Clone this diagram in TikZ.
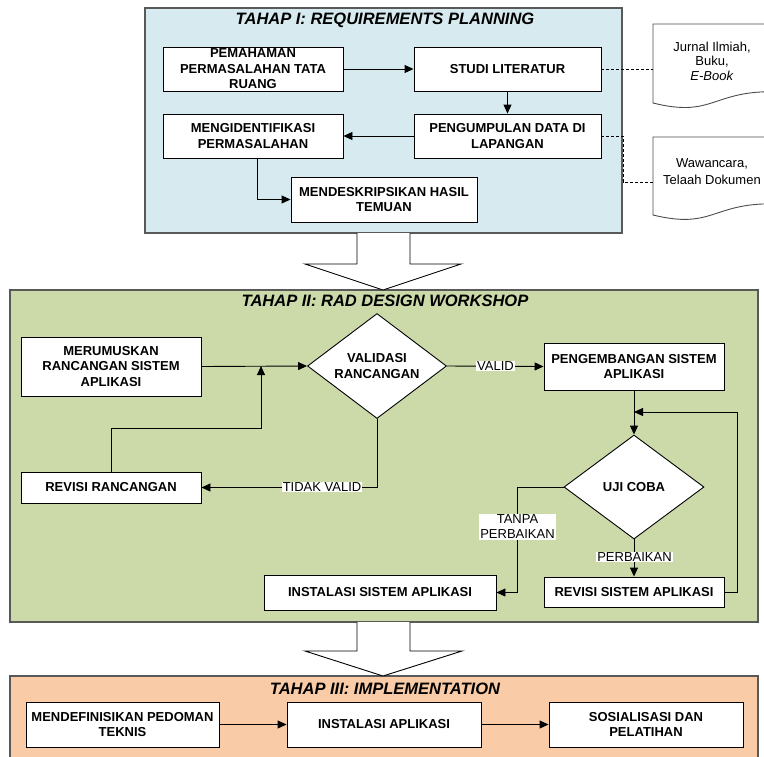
\documentclass[tikz,border=0pt]{standalone}
\usepackage{fontspec}
\setmainfont{Liberation Sans}
\usetikzlibrary{shapes.geometric,arrows.meta}
\definecolor{pblue}{RGB}{214,234,240}
\definecolor{pgreen}{RGB}{204,218,170}
\definecolor{porange}{RGB}{249,203,166}
\begin{document}
\begin{tikzpicture}[x=1pt,y=-1pt,
  box/.style={draw=black, fill=white, line width=0.9pt, align=center, inner sep=0pt,
              font=\fontsize{13}{15.5}\selectfont\bfseries},
  dia/.style={diamond, draw=black, fill=white, line width=0.9pt, align=center, inner sep=0pt,
              aspect=1.33, font=\fontsize{13}{15.5}\selectfont\bfseries},
  conn/.style={line width=0.9pt},
  arr/.style={line width=0.9pt, -{Triangle[length=9pt,width=8pt]}},
  lbl/.style={fill=white, inner sep=1pt, align=center, font=\fontsize{13}{15}\selectfont},
  panel/.style={draw=black!65, line width=1.2pt},
  ttl/.style={inner sep=0pt, font=\fontsize{16.5}{18}\selectfont\bfseries\itshape},
  hollow/.style={draw=black, fill=white, line width=0.9pt},
  docshape/.style={draw=black!70, fill=white, line width=0.9pt},
  dline/.style={dash pattern=on 3pt off 2pt, line width=0.8pt},
  doctext/.style={inner sep=0pt, align=center},
]
\useasboundingbox (0,0) rectangle (764,756);
\clip (0,0) rectangle (764,756);

% ---------- panels ----------
\draw[panel, fill=pblue] (145,8) rectangle (622,233);
\draw[panel, fill=pgreen] (10,290) rectangle (758,622);
\draw[panel, fill=porange] (10,676) rectangle (758,775);

% ---------- hollow arrows ----------
\draw[hollow] (357,233) -- (357,264) -- (305,264) -- (383,290) -- (461,264) -- (410,264) -- (410,233);
\draw[hollow] (357,622) -- (357,651) -- (305,651) -- (383,676) -- (462,651) -- (410,651) -- (410,622);

% ---------- titles ----------
\node[ttl] (t1) at (385,20) {TAHAP I: REQUIREMENTS PLANNING};
\node[ttl] (t2) at (385,301) {TAHAP II: RAD DESIGN WORKSHOP};
\node[ttl] (t3) at (385,689) {TAHAP III: IMPLEMENTATION};

% ---------- stage I ----------
\node[box, minimum width=180pt, minimum height=44pt] (pem) at (253,69) {PEMAHAMAN\\PERMASALAHAN TATA\\RUANG};
\node[box, minimum width=187pt, minimum height=44pt] (studi) at (507.5,69) {STUDI LITERATUR};
\node[box, minimum width=180pt, minimum height=44pt] (ident) at (253,136) {MENGIDENTIFIKASI\\PERMASALAHAN};
\node[box, minimum width=187pt, minimum height=44pt] (kumpul) at (507.5,136) {PENGUMPULAN DATA DI\\LAPANGAN};
\node[box, minimum width=186pt, minimum height=45pt] (deskrip) at (384,199.5) {MENDESKRIPSIKAN HASIL\\TEMUAN};

\draw[arr] (pem.east) -- (studi.west);
\draw[arr] (studi.south) -- (kumpul.north);
\draw[arr] (kumpul.west) -- (ident.west -| ident.east);
\draw[arr] (ident.south -| 257,0) |- (deskrip.west);

% documents
\draw[docshape] (653,24) -- (771,24) -- (771,91.7) .. controls (712,91.7) and (712,117.7) .. (653,103) -- cycle;
\draw[docshape] (653,137) -- (771,137) -- (771,203.8) .. controls (712,203.8) and (712,229.4) .. (653,215) -- cycle;
\node[doctext, font=\fontsize{13}{14.5}\selectfont] (doc1) at (712,61) {Jurnal Ilmiah,\\Buku,\\\textit{E-Book}};
\node[doctext, font=\fontsize{13}{16.7}\selectfont] (doc2) at (712,171.5) {Wawancara,\\Telaah Dokumen};
\coordinate (d1in) at (653,69);
\coordinate (d2in) at (653,182);
\draw[dline] (studi.east) -- (d1in);
\draw[dline] (kumpul.east) -- (623,136) |- (d2in);

% ---------- stage II ----------
\node[box, minimum width=180pt, minimum height=59pt] (meru) at (111,366.5) {MERUMUSKAN\\RANCANGAN SISTEM\\APLIKASI};
\node[dia, minimum width=139pt, minimum height=105pt] (valid) at (377,366) {VALIDASI\\RANCANGAN};
\node[box, minimum width=180pt, minimum height=31pt] (revr) at (111,487.5) {REVISI RANCANGAN};
\node[box, minimum width=180pt, minimum height=47pt] (peng) at (634,366.5) {PENGEMBANGAN SISTEM\\APLIKASI};
\node[dia, minimum width=140pt, minimum height=104pt] (uji) at (634,487) {UJI COBA};
\node[box, minimum width=180pt, minimum height=30pt] (revs) at (634,592) {REVISI SISTEM APLIKASI};
\node[box, minimum width=232pt, minimum height=35pt] (inst) at (380,592.5) {INSTALASI SISTEM APLIKASI};

\coordinate (j1) at (261,366);
\coordinate (j2) at (634,412);

\draw[arr] (meru.east) -- (valid.west);
\draw[arr] (revr.north) -- ++(0,-43) -| (j1);
\draw[arr] (valid.south) |- (revr.east);
\node[lbl] (ltv) at (322,487) {TIDAK VALID};
\draw[arr] (valid.east) -- (peng.west);
\node[lbl] (lv) at (495.5,366) {VALID};
\draw[arr] (peng.south) -- (uji.north);
\draw[arr] (uji.south) -- (revs.north);
\node[lbl] (lp) at (634.5,557) {PERBAIKAN};
\draw[arr] (revs.east) -- ++(13,0) |- (j2);
\draw[arr] (uji.west) -- (517,487) |- (inst.east);
\node[lbl] (ltp) at (517.5,527) {TANPA\\PERBAIKAN};

% ---------- stage III ----------
\node[box, minimum width=193pt, minimum height=45pt] (mdef) at (122.5,724.5) {MENDEFINISIKAN PEDOMAN\\TEKNIS};
\node[box, minimum width=194pt, minimum height=45pt] (inap) at (384,724.5) {INSTALASI APLIKASI};
\node[box, minimum width=194pt, minimum height=45pt] (sos) at (646,724.5) {SOSIALISASI DAN\\PELATIHAN};
\draw[arr] (mdef.east) -- (inap.west);
\draw[arr] (inap.east) -- (sos.west);
\end{tikzpicture}
\end{document}
